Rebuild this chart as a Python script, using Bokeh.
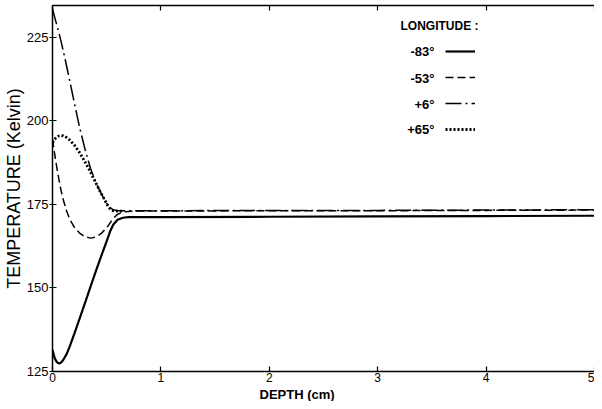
from bokeh.plotting import figure
from bokeh.models import LinearAxis, FixedTicker, Range1d, Legend, LegendItem, Label, Title
from bokeh.core.properties import value
from bokeh.embed import file_html
from bokeh.resources import INLINE

# ---- data ----
depth = [0, 0.02, 0.04, 0.06, 0.08, 0.1, 0.13, 0.16, 0.2, 0.25, 0.3, 0.35, 0.4,
         0.45, 0.5, 0.53, 0.56, 0.6, 0.65, 0.7, 0.8, 1.0, 2.0, 3.0, 4.0, 5.0]
temp_m83 = [131.5, 129.0, 127.8, 127.4, 127.7, 128.5, 130.2, 132.6, 136.2, 140.8,
            145.5, 150.3, 155.0, 159.6, 164.0, 166.8, 168.9, 170.4, 171.0, 171.2,
            171.2, 171.2, 171.3, 171.4, 171.5, 171.6]
temp_m53 = [194.5, 190.0, 186.0, 182.3, 179.0, 176.3, 173.0, 170.5, 168.2, 166.4,
            165.3, 164.9, 165.2, 166.3, 168.0, 169.4, 170.8, 172.0, 172.7, 172.9,
            173.0, 173.0, 173.1, 173.1, 173.2, 173.3]
temp_p6 = [233.5, 231.0, 228.6, 226.2, 223.6, 220.8, 216.4, 211.8, 205.6, 198.0,
           191.5, 185.8, 181.5, 178.2, 175.3, 174.0, 173.4, 173.1, 173.1, 173.1,
           173.1, 173.1, 173.2, 173.2, 173.3, 173.4]
depth_p65 = [0, 0.02, 0.04, 0.06, 0.08, 0.1, 0.13, 0.16, 0.2, 0.25, 0.3, 0.35, 0.4,
             0.45, 0.5, 0.53, 0.56, 0.6, 0.65]
temp_p65 = [193.5, 194.5, 195.1, 195.5, 195.6, 195.5, 195.0, 194.2, 192.8, 190.5,
            187.7, 184.7, 181.4, 178.2, 175.2, 173.7, 173.1, 173.0, 173.0]

x_ticks = [0, 1, 2, 3, 4, 5]
y_ticks = [125, 150, 175, 200, 225]
series_labels = ["-83°", "-53°", "+6°", "+65°"]
legend_title = "LONGITUDE :"
x_label = "DEPTH (cm)"
y_label = "TEMPERATURE (Kelvin)"

FONT = "Liberation Sans"

p = figure(width=594, height=401, output_backend="svg", toolbar_location=None,
           x_range=Range1d(0, 5), y_range=Range1d(125, 234.5),
           x_axis_location=None, y_axis_location=None,
           min_border_left=50, min_border_right=0, min_border_top=5, min_border_bottom=0)
p.outline_line_color = None
p.grid.visible = False
p.background_fill_color = "white"

def axis_common(ax):
    ax.axis_line_color = "black"
    ax.axis_line_width = 1.5
    ax.major_tick_line_color = "black"
    ax.major_tick_line_width = 1.2
    ax.minor_tick_line_color = None
    ax.major_label_text_font = FONT
    ax.major_label_text_color = "black"
    ax.axis_label_text_font = FONT
    ax.axis_label_text_color = "black"
    ax.axis_label_text_font_style = "normal"

bottom = LinearAxis(ticker=FixedTicker(ticks=x_ticks))
axis_common(bottom)
bottom.major_tick_in = 5
bottom.major_tick_out = 0
bottom.major_label_standoff = 1
bottom.major_label_text_font_size = "12px"
p.add_layout(bottom, "below")

xt = Title(text=x_label, align="left", offset=207, text_font=FONT, text_font_size="13px",
           text_font_style="bold", text_color="black", standoff=0)
p.add_layout(xt, "below")

left = LinearAxis(ticker=FixedTicker(ticks=y_ticks), axis_label=y_label)
axis_common(left)
left.major_tick_in = 4
left.major_tick_out = 3
left.major_label_standoff = 1
left.major_label_text_font_size = "13px"
left.axis_label_text_font_size = "18px"
left.axis_label_standoff = 0
p.add_layout(left, "left")

top = LinearAxis(ticker=FixedTicker(ticks=x_ticks))
axis_common(top)
top.major_tick_in = 5
top.major_tick_out = 0
top.major_label_standoff = 0
top.major_label_overrides = {t: "" for t in x_ticks}
top.major_label_text_font_size = "1px"
p.add_layout(top, "above")

r1 = p.line(depth, temp_m83, line_color="black", line_width=2.2)
r2 = p.line(depth, temp_m53, line_color="black", line_width=1.5, line_dash="8 4")
r3 = p.line(depth, temp_p6, line_color="black", line_width=1.5, line_dash="16 4 2 4")
r4 = p.line(depth_p65, temp_p65, line_color="black", line_width=2.8, line_dash="2 2")

legend = Legend(items=[LegendItem(label=value(" "), renderers=[r]) for r in (r1, r2, r3, r4)],
                location=(393, 232), glyph_width=30, glyph_height=20, spacing=6,
                padding=0, margin=0, label_standoff=0, label_width=0, label_height=20,
                border_line_color=None, background_fill_alpha=0,
                label_text_font_size="1px")
p.add_layout(legend)

p.add_layout(Label(x=348, y=346, x_units="screen", y_units="screen", text=legend_title,
                   text_align="left", text_baseline="middle", text_font=FONT,
                   text_font_size="12px", text_font_style="bold", text_color="black"))
label_y = [320, 293, 267, 242]
for txt, ly in zip(series_labels, label_y):
    p.add_layout(Label(x=382, y=ly, x_units="screen", y_units="screen", text=txt,
                       text_align="right", text_baseline="middle", text_font=FONT,
                       text_font_size="13px", text_font_style="bold", text_color="black"))

open("out.html", "w").write(file_html(p, INLINE))
